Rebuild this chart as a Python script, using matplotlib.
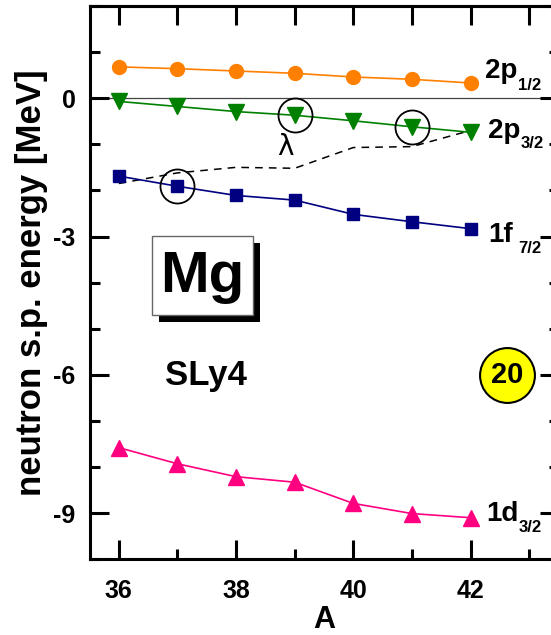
import matplotlib
matplotlib.use("Agg")
import matplotlib.pyplot as plt
from matplotlib.patches import Rectangle

plt.rcParams['font.family'] = ['Liberation Sans', 'DejaVu Sans']
plt.rcParams['font.weight'] = 'bold'
plt.rcParams['axes.unicode_minus'] = False

A = [36, 37, 38, 39, 40, 41, 42]
e_2p12 = [0.68, 0.64, 0.59, 0.54, 0.46, 0.41, 0.33]
e_2p32 = [-0.07, -0.18, -0.29, -0.37, -0.49, -0.62, -0.74]
e_1f72 = [-1.69, -1.91, -2.11, -2.21, -2.52, -2.68, -2.83]
e_1d32 = [-7.58, -7.93, -8.21, -8.33, -8.79, -9.01, -9.10]
lam = [-1.85, -1.62, -1.50, -1.52, -1.07, -1.05, -0.70]
circled_A = [39, 41, 37]
circled_E = [-0.37, -0.62, -1.91]

W, H = 551, 635
fig = plt.figure(figsize=(W / 100, H / 100), dpi=100)
ax = fig.add_axes([89.5 / W, 1 - 559.2 / H, 469 / W, 553.2 / H])
ax.set_xlim(35.5, 43.5)
ax.set_ylim(-10, 2)

ax.axhline(0, color='#444444', lw=0.9, zorder=1)

ax.plot(A, e_2p12, '-o', color='#FF8000', ms=10, lw=1.2, mec='#FF8000', zorder=3)
ax.plot(A, e_2p32, '-v', color='#008000', ms=11, lw=1.2, zorder=3)
ax.plot(A, e_1f72, '-s', color='#000080', ms=8.6, lw=1.2, zorder=3)
ax.plot(A, e_1d32, '-^', color='#FF0080', ms=11.5, lw=1.2, zorder=3)
ax.plot(A, lam, '--', color='black', lw=1.1, dashes=(5, 4), zorder=2)
ax.plot(circled_A, circled_E, 'o', ms=24.5, mfc='none', mec='black', mew=1.3, zorder=4)

# level labels
def level(x, y, main, sub, xs, ys):
    ax.text(x, y, main, fontsize=20, fontweight='bold', va='baseline', ha='left')
    ax.text(xs, ys, sub, fontsize=12, fontweight='bold', va='baseline', ha='left')

level(42.25, 0.44, '2p', '1/2', 42.81, 0.18)
level(42.29, -0.86, '2p', '3/2', 42.85, -1.08)
level(42.31, -3.13, '1f', '7/2', 42.81, -3.35)
level(42.27, -9.18, '1d', '3/2', 42.82, -9.42)

ax.text(38.84, -1.05, 'λ', fontsize=20, fontweight='normal', family='DejaVu Sans',
        ha='center', va='center')

# Mg box with shadow
ax.add_patch(Rectangle((36.69, -4.85), 1.72, 1.71, facecolor='black', edgecolor='none', zorder=5))
ax.add_patch(Rectangle((36.57, -4.70), 1.72, 1.71, facecolor='white', edgecolor='#666666', lw=1.0, zorder=6))
ax.text(37.43, -3.87, 'Mg', fontsize=42, fontweight='bold', ha='center', va='center', zorder=7)

ax.text(36.79, -6.22, 'SLy4', fontsize=25, fontweight='bold', ha='left', va='baseline')

ax.plot([42.62], [-6.0], 'o', ms=39.5, mfc='#FFFF00', mec='black', mew=1.5, zorder=5, clip_on=False)
ax.text(42.62, -6.0, '20', fontsize=21, fontweight='bold', ha='center', va='center', zorder=6)

# ticks
ax.set_xticks([36, 38, 40, 42])
ax.set_xticks([37, 39, 41, 43], minor=True)
ax.set_yticks([-9, -6, -3, 0])
ax.set_yticks([-10, -8, -7, -5, -4, -2, -1, 1, 2], minor=True)
ax.tick_params(which='major', direction='in', length=14, width=2.2, labelsize=18,
               right=True, pad=10)
ax.tick_params(which='minor', direction='in', length=7.5, width=2.2, right=True)
ax.tick_params(axis='x', which='major', pad=14)
for lab in ax.get_xticklabels() + ax.get_yticklabels():
    lab.set_fontweight('bold')
sec = ax.secondary_xaxis('top')
sec.set_xticks([36, 37, 38, 39, 40, 41, 42, 43])
sec.tick_params(direction='in', length=14, width=2.2, labeltop=False)
sec.spines['top'].set_linewidth(2.2)
for s in ax.spines.values():
    s.set_linewidth(2.2)

ax.set_xlabel('A', fontsize=22, fontweight='bold', labelpad=2)
ax.set_ylabel('neutron s.p. energy [MeV]', fontsize=25, fontweight='bold', labelpad=4)

fig.savefig('out.png', dpi=100)
